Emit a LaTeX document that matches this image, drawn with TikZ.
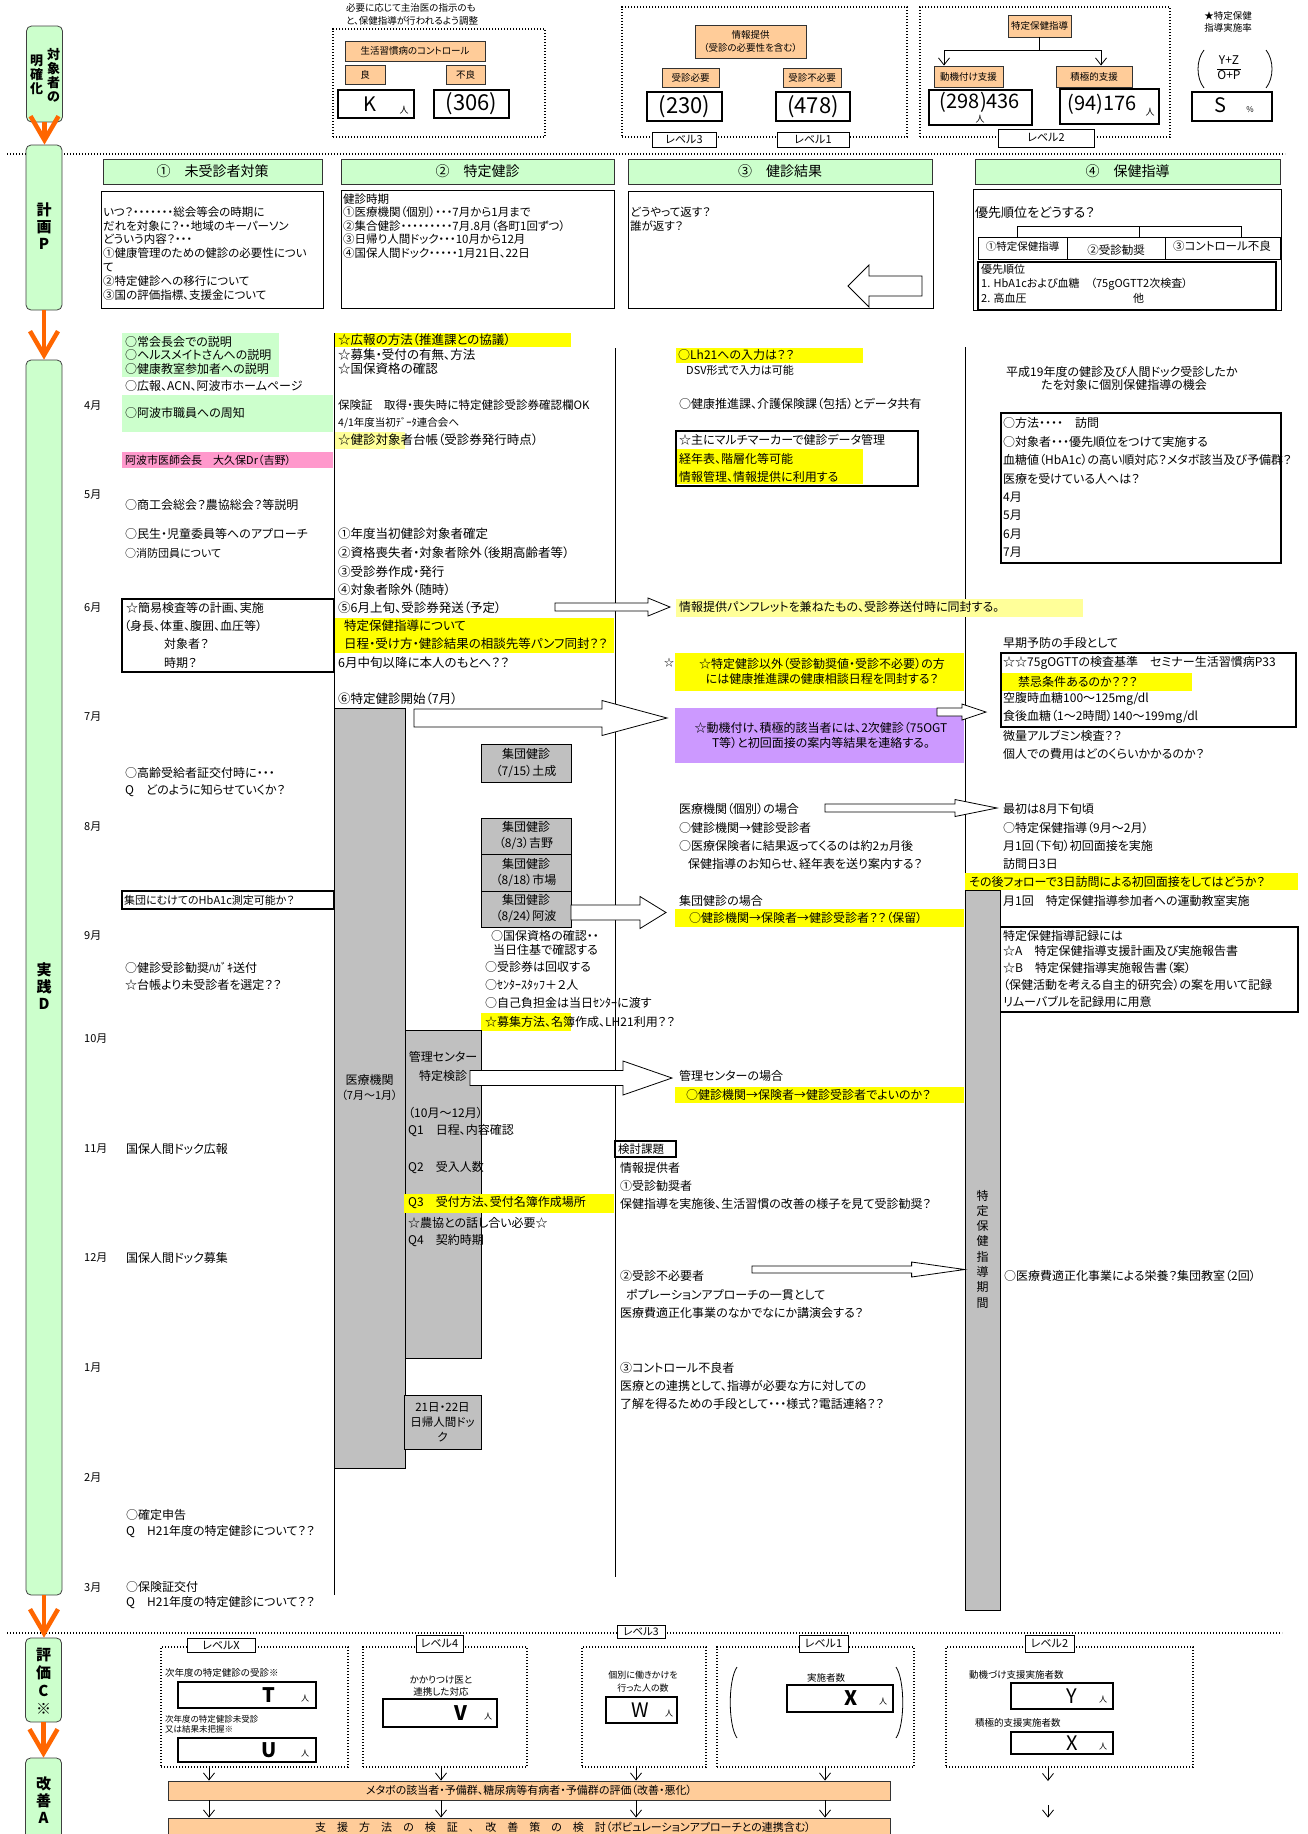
\documentclass[tikz,border=0pt]{standalone}
\usepackage{fontspec}
\setmainfont{Noto Sans CJK JP}[RawFeature=+palt]
\usetikzlibrary{arrows.meta,calc}

\definecolor{phgreen}{HTML}{CCFFCC}
\definecolor{boxorange}{HTML}{FFCC99}
\definecolor{hlyellow}{HTML}{FFFF00}
\definecolor{paleyellow}{HTML}{FFFF99}
\definecolor{pinkbox}{HTML}{FF99CC}
\definecolor{purplebox}{HTML}{CC99FF}
\definecolor{graybox}{HTML}{C0C0C0}
\definecolor{arrorange}{HTML}{FF6600}

\newcommand{\fsz}[1]{\fontsize{#1}{#1}\selectfont}
% hollow block arrow: start, tip, shaft half height, head half height, head length
\newcommand{\blockarr}[5]{%
  \draw[barr] let \p1=(#1), \p2=(#2) in
    (\x1,{\y1+#3pt}) -- ({\x2-(#5pt)},{\y1+#3pt}) -- ({\x2-(#5pt)},{\y1+#4pt})
    -- (\x2,\y1) -- ({\x2-(#5pt)},{\y1-#4pt}) -- ({\x2-(#5pt)},{\y1-#3pt})
    -- (\x1,{\y1-#3pt}) -- cycle;}

\tikzset{
  txt/.style={anchor=west, inner sep=0pt, font=\fsz{12}},
  c2/.style={anchor=west, inner sep=0pt, font=\fsz{12.5}},
  ctxt/.style={inner sep=0pt, align=center, font=\fsz{12}},
  wh/.style 2 args={minimum width=#1pt, minimum height=#2pt},
  phase/.style={draw=black!75, fill=phgreen, rounded corners=5pt, minimum width=36pt, inner sep=0pt, line width=0.8pt},
  vlab/.style={inner sep=0pt, align=center, font=\fontsize{15}{17}\selectfont\bfseries},
  hdr/.style={draw=black!80, fill=phgreen, inner sep=0pt, line width=0.9pt, font=\fsz{14}},
  obox/.style={draw=black!80, fill=boxorange, inner sep=0pt, line width=0.9pt, font=\fsz{9.5}},
  wbox/.style={draw, fill=white, inner sep=0pt, line width=0.8pt},
  tbox/.style={draw, fill=white, inner sep=0pt, line width=2pt},
  nbox/.style={draw, fill=white, inner sep=0pt, line width=1.5pt},
  gbox/.style={draw, fill=graybox, inner sep=0pt, line width=0.8pt},
  fillbox/.style={fill=#1, inner sep=0pt},
  dotbox/.style={draw, dash pattern=on 1.4pt off 1.6pt, line width=1.2pt, inner sep=0pt},
  lvl/.style={draw, fill=white, inner sep=0pt, line width=0.6pt, font=\fsz{11}},
  rule/.style={line width=0.8pt},
  dotline/.style={dash pattern=on 1.4pt off 1.6pt, line width=1.2pt},
  oarr/.style={draw=arrorange, line width=4.5pt, -{Straight Barb[length=24pt, width=28pt]}},
  sarr/.style={line width=0.8pt, -{Straight Barb[length=7pt, width=11pt]}},
  barr/.style={draw, fill=white, line width=0.8pt, line join=miter},
}

\begin{document}
\begin{tikzpicture}[x=1pt,y=-1pt]
  \useasboundingbox[fill=white] (0,0) rectangle (1308,1834);

  % Rules and separators
  \draw[dotline] (7,154) -- (1285,154);
  \draw[dotline] (7,1633) -- (1282,1633);
  \draw[rule] (334,333) -- (334,1595);
  \draw[rule] (615,348) -- (615,1577);
  \draw[rule] (965,347) -- (965,890);

  % Phase boxes
  \node[phase, minimum height=96pt] (ph1) at (44.5,74) {};
  \node[vlab, font=\fontsize{13}{14}\selectfont\bfseries] (ph1r) at (53.5,75) {対\\象\\者\\の};
  \node[vlab, font=\fontsize{13}{14}\selectfont\bfseries] (ph1l) at (36.5,75) {明\\確\\化};
  \node[phase, minimum height=165pt] (ph2) at (44,227.5) {};
  \node[vlab] (ph2t) at (44,226.5) {計\\画\\P};
  \node[phase, minimum height=1235pt] (ph3) at (44,977.5) {};
  \node[vlab] (ph3t) at (44,986) {実\\践\\D};
  \node[phase, minimum height=84pt] (ph4) at (43.5,1680) {};
  \node[vlab, font=\fontsize{15}{18}\selectfont\bfseries] (ph4t) at (43.5,1681) {評\\価\\C\\※};
  \node[phase, minimum height=110pt] (ph5) at (43.5,1813) {};
  \node[vlab] (ph5t) at (43.5,1800) {改\\善\\A};
  \draw[oarr] (ph1.south) -- (ph1.south |- ph2.north);
  \draw[oarr] (ph2.south) -- (ph2.south |- ph3.north);
  \draw[oarr] (ph3.south) -- (ph3.south |- ph4.north);
  \draw[oarr] (ph4.south) -- (ph4.south |- ph5.north);

  % Top: control / information / guidance
  \node[txt, font=\fsz{9.5}] (adj1) at (346,8) {必要に応じて主治医の指示のも};
  \node[txt, font=\fsz{9.5}] (adj2) at (346,21) {と、保健指導が行われるよう調整};
  \node[dotbox, wh={212}{108}] (grpA) at (439,83) {};
  \node[obox, wh={140}{20}] (ctl) at (415,51) {生活習慣病のコントロール};
  \node[obox, wh={40}{19}] (good) at (365,74.5) {良};
  \node[obox, wh={39}{19}] (poor) at (465.5,74.5) {不良};
  \node[tbox, wh={76}{28}] (kbox) at (376,104) {};
  \node[ctxt, font=\fsz{20}] (kval) at (370,104) {K};
  \node[ctxt, font=\fsz{9}] (kunit) at (404,110) {人};
  \node[tbox, wh={75}{28}, font=\fsz{22}] (pbox) at (471.5,104) {(306)};

  \node[dotbox, wh={285}{130}] (grpB) at (764.5,72) {};
  \node[obox, wh={111}{33}, align=center, font=\fontsize{9.5}{13}\selectfont] (info) at (750.5,41.5) {情報提供\\（受診の必要性を含む）};
  \node[obox, wh={57}{19}] (need) at (690.5,77.5) {受診必要};
  \node[obox, wh={58}{19}] (noneed) at (812,77.5) {受診不必要};
  \node[tbox, wh={75}{29}, font=\fsz{22}] (n230) at (684.5,106.5) {(230)};
  \node[tbox, wh={74}{29}, font=\fsz{22}] (n478) at (813,106.5) {(478)};
  \node[lvl, wh={64}{15}] (lvA) at (684,139.5) {レベル3};
  \node[lvl, wh={72}{15}] (lvB) at (813,139.5) {レベル1};

  \node[dotbox, wh={250}{130}] (grpC) at (1045,72) {};
  \node[obox, wh={63}{22}] (tok) at (1039.5,26) {特定保健指導};
  \node[obox, wh={69}{21}] (mot) at (968.5,76.5) {動機付け支援};
  \node[obox, wh={76}{21}] (act) at (1094,76.5) {積極的支援};
  \coordinate (brl) at (944,50);
  \coordinate (brr) at (1101,50);
  \draw[rule] (tok.south) -- (tok.south |- brl);
  \draw[rule] (brl) -- (brr);
  \draw[sarr] (brl) -- (brl |- mot.north);
  \draw[sarr] (brr) -- (brr |- act.north);
  \node[tbox, wh={103}{35}] (n436) at (980.5,107.5) {};
  \node[ctxt, font=\fsz{20}] (v436) at (980,102) {(298)436};
  \node[ctxt, font=\fsz{9}] (u436) at (980,119) {人};
  \node[tbox, wh={99}{35}] (n176) at (1109.5,106.5) {};
  \node[ctxt, font=\fsz{20}] (v176) at (1102,104) {(94)176};
  \node[ctxt, font=\fsz{9}] (u176) at (1150,112) {人};
  \node[lvl, wh={96}{18}] (lvC) at (1046,138) {レベル2};

  \node[ctxt, font=\fontsize{9.5}{12}\selectfont] (rate) at (1228,22) {★特定保健\\指導実施率};
  \node[inner sep=0pt, font=\fontsize{12}{14}\selectfont] (frac) at (1229,69) {\begin{tabular}{@{}c@{}}Y+Z\\\hline O+P\end{tabular}};
  \draw[rule] (1204,50) .. controls (1196,60) and (1196,78) .. (1204,88);
  \draw[rule] (1266,50) .. controls (1274,60) and (1274,78) .. (1266,88);
  \node[tbox, wh={80}{29}] (sbox) at (1232,106.5) {};
  \node[ctxt, font=\fsz{20}] (sval) at (1220,105) {S};
  \node[ctxt, font=\fsz{8}] (sunit) at (1250,110) {\%};

  % Plan
  \node[hdr, wh={219}{25}] (h1) at (212.5,171.5) {①　未受診者対策};
  \node[hdr, wh={273}{25}] (h2) at (477.5,171.5) {②　特定健診};
  \node[hdr, wh={304}{25}] (h3) at (780,171.5) {③　健診結果};
  \node[hdr, wh={305}{25}] (h4) at (1127.5,171.5) {④　保健指導};

  \node[wbox, wh={222}{117}] (pb1) at (212,249.5) {};
  \foreach \lbl [count=\i] in {{いつ？・・・・・・・総会等会の時期に},{だれを対象に？・・地域のキーパーソン},{どういう内容？・・・},{①健康管理のための健診の必要性につい},{て},{②特定健診への移行について},{③国の評価指標、支援金について}}
    \node[txt, font=\fsz{11.5}] (pa\i) at (103,{198.2+13.8*\i}) {\lbl};
  \node[wbox, wh={273}{118}] (pb2) at (477.5,249) {};
  \foreach \lbl [count=\i] in {{健診時期},{①医療機関（個別）・・・7月から1月まで},{②集合健診・・・・・・・・・7月.8月（各町1回ずつ）},{③日帰り人間ドック・・・10月から12月},{④国保人間ドック・・・・・1月21日、22日}}
    \node[txt, font=\fsz{11.5}] (pp\i) at (343,{185.5+13.5*\i}) {\lbl};
  \node[wbox, wh={305}{117}] (pb3) at (780.5,249.5) {};
  \node[txt, font=\fsz{11.5}] (pc1) at (630,212.5) {どうやって返す？};
  \node[txt, font=\fsz{11.5}] (pc2) at (630,226.5) {誰が返す？};
  \coordinate (back0) at (922,286);
  \coordinate (back1) at (848,286);
  \blockarr{back0}{back1}{10}{21}{-21}
  \node[wbox, wh={308}{121}] (pb4) at (1127,249.5) {};
  \node[txt, font=\fsz{13}] (prio) at (975,213) {優先順位をどうする？};
  \node[wbox, wh={89}{22}] (pr1) at (1022.5,248) {};
  \node[wbox, wh={98}{22}] (pr2) at (1116,248) {};
  \node[wbox, wh={115}{22}] (pr3) at (1222.5,248) {};
  \node[ctxt, font=\fsz{10.5}] (pr1t) at (1022.5,247) {①特定保健指導};
  \node[ctxt, font=\fsz{11.5}] (pr2t) at (1116,250) {②受診勧奨};
  \node[ctxt, font=\fsz{11.5}] (pr3t) at (1222,246) {③コントロール不良};
  \coordinate (bk1) at (1017,226);
  \coordinate (bk2) at (1139,226);
  \coordinate (bk3) at (1241,226);
  \draw[rule] (bk1 |- pr1.north) -- (bk1) -- (bk3) -- (bk3 |- pr3.north);
  \draw[rule] (bk2) -- (bk2 |- pr2.north);
  \node[tbox, wh={298}{48}] (prlist) at (1127,286) {};
  \node[txt, font=\fsz{11}] (pl1) at (981,269) {優先順位};
  \node[txt, font=\fsz{11}] (pl2) at (981,284) {1. HbA1cおよび血糖　（75gOGTT2次検査）};
  \node[txt, font=\fsz{11}] (pl3) at (981,298) {2. 高血圧};
  \node[txt, font=\fsz{11}] (pl4) at (1133,298) {他};

  % Practice: months
  \foreach \m/\y in {4/406,5/495,6/608,7/717,8/827,9/936,10/1039,11/1149,12/1258,1/1368,2/1478,3/1588}
    \node[txt, font=\fsz{11}] (mon\m) at (84,\y) {\m{}月};

  % Practice: column 1
  \node[fillbox=phgreen, wh={157}{44}] (grn1) at (200.5,355) {};
  \node[txt] (k1) at (125,342) {○常会長会での説明};
  \node[txt] (k2) at (125,355) {○ヘルスメイトさんへの説明};
  \node[txt] (k3) at (125,369) {○健康教室参加者への説明};
  \node[txt] (k4) at (125,386) {○広報、ACN、阿波市ホームページ};
  \node[fillbox=phgreen, wh={211}{37}] (grn2) at (227.5,413.5) {};
  \node[txt] (k5) at (125,413) {○阿波市職員への周知};
  \node[fillbox=pinkbox, wh={211}{16}] (pnk) at (227.5,460) {};
  \node[txt, font=\fsz{11}] (k6) at (125,460) {阿波市医師会長　大久保Dr（吉野）};
  \node[txt] (k7) at (125,505) {○商工会総会？農協総会？等説明};
  \node[txt] (k8) at (125,534) {○民生・児童委員等へのアプローチ};
  \node[txt, font=\fsz{11}] (k9) at (125,553) {○消防団員について};
  \node[tbox, wh={212}{73}] (kani) at (228,635.5) {};
  \node[txt] (k10) at (126,608) {☆簡易検査等の計画、実施};
  \node[txt] (k11) at (124,626) {（身長、体重、腹囲、血圧等）};
  \node[txt] (k12) at (164,644) {対象者？};
  \node[txt] (k13) at (164,663) {時期？};
  \node[txt] (k14) at (125,773) {○高齢受給者証交付時に・・・};
  \node[txt] (k15) at (125,791) {Q　どのように知らせていくか？};
  \node[tbox, wh={212}{18}] (hba) at (228,900) {};
  \node[txt, font=\fsz{11}] (k16) at (124,900) {集団にむけてのHbA1c測定可能か？};
  \node[txt] (k17) at (125,968) {○健診受診勧奨ﾊｶﾞｷ送付};
  \node[txt] (k18) at (125,985) {☆台帳より未受診者を選定？？};
  \node[txt] (k19) at (126,1149) {国保人間ドック広報};
  \node[txt] (k20) at (126,1258) {国保人間ドック募集};
  \node[txt] (k21) at (126,1515) {○確定申告};
  \node[txt] (k22) at (126,1532) {Q　H21年度の特定健診について？？};
  \node[txt] (k23) at (126,1587) {○保険証交付};
  \node[txt] (k24) at (126,1603) {Q　H21年度の特定健診について？？};

  % Practice: column 2
  \node[fillbox=hlyellow, wh={236}{14}] (ylw1) at (453,340) {};
  \node[c2] (s1) at (338,340) {☆広報の方法（推進課との協議）};
  \node[c2] (s2) at (338,355) {☆募集・受付の有無、方法};
  \node[c2] (s3) at (338,369) {☆国保資格の確認};
  \node[txt, font=\fsz{11.5}] (s4) at (338,405) {保険証　取得・喪失時に特定健診受診券確認欄OK};
  \node[txt, font=\fsz{10.5}] (s5) at (338,423) {4/1年度当初ﾃﾞｰﾀ連合会へ};
  \node[fillbox=paleyellow, wh={70}{17}] (ylw2) at (370,440.5) {};
  \node[c2] (s6) at (338,440) {☆健診対象者台帳（受診券発行時点）};
  \node[c2] (s7) at (338,534) {①年度当初健診対象者確定};
  \node[c2] (s8) at (338,553) {②資格喪失者・対象者除外（後期高齢者等）};
  \node[c2] (s9) at (338,572) {③受診券作成・発行};
  \node[c2] (s10) at (338,590) {④対象者除外（随時）};
  \node[c2] (s11) at (338,608) {⑤6月上旬、受診券発送（予定）};
  \node[fillbox=hlyellow, wh={279}{35}] (ylw3) at (474.5,635.5) {};
  \node[c2] (s12) at (344,626) {特定保健指導について};
  \node[c2] (s13) at (344,644) {日程・受け方・健診結果の相談先等パンフ同封？？};
  \node[c2] (s14) at (338,663) {6月中旬以降に本人のもとへ？？};
  \node[c2] (s15) at (338,699) {⑥特定健診開始（7月）};

  \node[gbox, wh={71}{760}] (iryo) at (369.5,1088) {};
  \node[ctxt] (iryo1) at (369.5,1080) {医療機関};
  \node[ctxt, font=\fsz{11}] (iryo2) at (369.5,1095) {（7月〜1月）};
  \node[gbox, wh={90}{38}, align=center, font=\fontsize{12}{17}\selectfont] (gd1) at (526,763) {集団健診\\（7/15）土成};
  \node[gbox, wh={90}{36}, align=center, font=\fontsize{12}{16}\selectfont] (gd2) at (526,836) {集団健診\\（8/3）吉野};
  \node[gbox, wh={90}{37}, align=center, font=\fontsize{12}{16}\selectfont] (gd3) at (526,872.5) {集団健診\\（8/18）市場};
  \node[gbox, wh={90}{36}, align=center, font=\fontsize{12}{16}\selectfont] (gd4) at (526,909) {集団健診\\（8/24）阿波};
  \node[txt] (s16) at (491,936) {○国保資格の確認・・};
  \node[txt] (s17) at (493,950) {当日住基で確認する};
  \node[txt] (s18) at (485,967) {○受診券は回収する};
  \node[txt] (s19) at (485,985) {○ｾﾝﾀｰｽﾀｯﾌ＋２人};
  \node[txt] (s20) at (485,1003) {○自己負担金は当日ｾﾝﾀｰに渡す};
  \node[fillbox=hlyellow, wh={90}{18}] (ylw4) at (526,1022) {};
  \node[txt] (s21) at (485,1022) {☆募集方法、名簿作成、LH21利用？？};
  \node[gbox, wh={76}{328}] (kanri) at (443,1194) {};
  \node[ctxt] (kanri1) at (443,1057) {管理センター};
  \node[ctxt] (kanri2) at (443,1076) {特定検診};
  \node[txt] (s22) at (408,1113) {（10月〜12月）};
  \node[txt] (s23) at (408,1131) {Q1　日程、内容確認};
  \node[txt] (s24) at (408,1168) {Q2　受入人数};
  \node[fillbox=hlyellow, wh={210}{19}] (ylw5) at (509,1203.5) {};
  \node[txt] (s25) at (408,1203) {Q3　受付方法、受付名簿作成場所};
  \node[txt] (s26) at (408,1223) {☆農協との話し合い必要☆};
  \node[txt] (s27) at (408,1241) {Q4　契約時期};
  \node[gbox, wh={77}{54}, align=center, font=\fontsize{11.5}{15}\selectfont] (dock) at (442.5,1422) {21日・22日\\日帰人間ドッ\\ク};

  % Practice: column 3
  \node[fillbox=hlyellow, wh={187}{15}] (ylw6) at (769.5,355.5) {};
  \node[txt] (r1) at (678,355) {○Lh21への入力は？？};
  \node[txt, font=\fsz{11}] (r2) at (686,370) {DSV形式で入力は可能};
  \node[txt] (r3) at (679,404) {○健康推進課、介護保険課（包括）とデータ共有};
  \node[tbox, wh={242}{55}] (mm) at (797,458.5) {};
  \node[fillbox=hlyellow, wh={186}{35}] (ylw7) at (770,466.5) {};
  \node[txt] (r4) at (679,440) {☆主にマルチマーカーで健診データ管理};
  \node[txt] (r5) at (679,459) {経年表、階層化等可能};
  \node[txt] (r6) at (679,477) {情報管理、情報提供に利用する};
  \node[fillbox=paleyellow, wh={407}{18}] (pamph) at (879.5,608) {};
  \node[txt] (r7) at (679,607) {情報提供パンフレットを兼ねたもの、受診券送付時に同封する。};
  \node[txt, font=\fsz{10}] (r8) at (664,663) {☆};
  \node[fillbox=hlyellow, wh={289}{38}] (ylw8) at (819.5,672) {};
  \node[ctxt] (r9) at (822,664) {☆特定健診以外（受診勧奨値・受診不必要）の方};
  \node[ctxt] (r10) at (822,679) {には健康推進課の健康相談日程を同封する？};
  \node[fillbox=purplebox, wh={289}{55}] (purp) at (819.5,735.5) {};
  \node[ctxt] (r11) at (821,728) {☆動機付け、積極的該当者には、2次健診（75OGT};
  \node[ctxt] (r12) at (821,743) {T等）と初回面接の案内等結果を連絡する。};
  \node[txt] (r13) at (679,809) {医療機関（個別）の場合};
  \node[txt] (r14) at (679,828) {○健診機関→健診受診者};
  \node[txt] (r15) at (679,846) {○医療保険者に結果返ってくるのは約2ヵ月後};
  \node[txt] (r16) at (688,864) {保健指導のお知らせ、経年表を送り案内する？};
  \node[txt] (r17) at (679,901) {集団健診の場合};
  \node[fillbox=hlyellow, wh={289}{18}] (ylw9) at (819.5,918) {};
  \node[txt] (r18) at (689,918) {○健診機関→保険者→健診受診者？？（保留）};
  \node[txt] (r19) at (679,1076) {管理センターの場合};
  \node[fillbox=hlyellow, wh={289}{16}] (ylw10) at (819.5,1094.5) {};
  \node[txt] (r20) at (686,1095) {○健診機関→保険者→健診受診者でよいのか？};
  \node[tbox, wh={61}{16}] (kento) at (645.5,1149) {};
  \node[txt, font=\fsz{11.5}] (r21) at (618,1149) {検討課題};
  \node[txt] (r22) at (620,1168) {情報提供者};
  \node[txt] (r23) at (620,1186) {①受診勧奨者};
  \node[txt] (r24) at (620,1204) {保健指導を実施後、生活習慣の改善の様子を見て受診勧奨？};
  \node[txt] (r25) at (620,1276) {②受診不必要者};
  \node[txt] (r26) at (626,1295) {ポプレーションアプローチの一貫として};
  \node[txt] (r27) at (620,1313) {医療費適正化事業のなかでなにか講演会する？};
  \node[txt] (r28) at (620,1368) {③コントロール不良者};
  \node[txt] (r29) at (620,1386) {医療との連携として、指導が必要な方に対しての};
  \node[txt] (r30) at (620,1404) {了解を得るための手段として・・・様式？電話連絡？？};

  % Practice: column 4
  \node[txt] (q1) at (1006,372) {平成19年度の健診及び人間ドック受診したか};
  \node[txt] (q2) at (1041,385) {たを対象に個別保健指導の機会};
  \node[tbox, wh={280}{150}] (visit) at (1141,488) {};
  \foreach \lbl [count=\i] in {{○方法・・・・　訪問},{○対象者・・・優先順位をつけて実施する},{血糖値（HbA1c）の高い順対応？メタボ該当及び予備群？},{医療を受けている人へは？},{4月},{5月},{6月},{7月}}
    \node[txt] (vl\i) at (1003,{404.5+18.5*\i}) {\lbl};
  \node[txt] (q3) at (1003,643) {早期予防の手段として};
  \node[tbox, wh={295}{74}] (ogtt) at (1148.5,690) {};
  \node[fillbox=hlyellow, wh={190}{18}] (ylw11) at (1097,682) {};
  \node[txt] (q4) at (1003,663) {☆☆75gOGTTの検査基準　セミナー生活習慣病P33};
  \node[txt] (q5) at (1018,682) {禁忌条件あるのか？？？};
  \node[txt] (q6) at (1003,699) {空腹時血糖100〜125mg/dl};
  \node[txt] (q7) at (1003,717) {食後血糖（1〜2時間）140〜199mg/dl};
  \node[txt] (q8) at (1003,736) {微量アルブミン検査？？};
  \node[txt] (q9) at (1003,754) {個人での費用はどのくらいかかるのか？};
  \node[txt] (q10) at (1003,809) {最初は8月下旬頃};
  \node[txt] (q11) at (1003,828) {○特定保健指導（9月〜2月）};
  \node[txt] (q12) at (1003,846) {月1回（下旬）初回面接を実施};
  \node[txt] (q13) at (1003,864) {訪問日3日};
  \node[fillbox=hlyellow, wh={333}{17}] (ylw12) at (1131.5,881.5) {};
  \node[txt] (q14) at (969,882) {その後フォローで3日訪問による初回面接をしてはどうか？};
  \node[txt] (q15) at (1003,901) {月1回　特定保健指導参加者への運動教室実施};
  \node[tbox, wh={298}{85}] (rec) at (1149,969.5) {};
  \node[txt] (q16) at (1003,936) {特定保健指導記録には};
  \node[txt] (q17) at (1003,951) {☆A　特定保健指導支援計画及び実施報告書};
  \node[txt] (q18) at (1003,968) {☆B　特定保健指導実施報告書（案）};
  \node[txt] (q19) at (1003,985) {（保健活動を考える自主的研究会）の案を用いて記録};
  \node[txt] (q20) at (1003,1002) {リムーバブルを記録用に用意};
  \node[gbox, wh={35}{720}] (kikan) at (982.5,1250) {};
  \node[ctxt, font=\fontsize{12}{15.3}\selectfont] (kikant) at (982.5,1249) {特\\定\\保\\健\\指\\導\\期\\間};
  \node[txt] (q21) at (1004,1276) {○医療費適正化事業による栄養？集団教室（2回）};

  % Practice: block arrows
  \coordinate (ar5s) at (555,607);
  \coordinate (ar5t) at (670,607);
  \blockarr{ar5s}{ar5t}{4}{9}{22}
  \coordinate (ar6s) at (414,718);
  \coordinate (ar6t) at (667,718);
  \blockarr{ar6s}{ar6t}{9}{17.5}{65}
  \coordinate (arGs) at (571,912.5);
  \coordinate (arGt) at (666,912.5);
  \blockarr{arGs}{arGt}{7.5}{16}{26}
  \coordinate (arKs) at (470,1078);
  \coordinate (arKt) at (672,1078);
  \blockarr{arKs}{arKt}{7.5}{17}{49}
  \coordinate (arPs) at (937,712);
  \coordinate (arPt) at (986,712);
  \blockarr{arPs}{arPt}{4}{8}{24}
  \coordinate (arIs) at (825,808);
  \coordinate (arIt) at (997,808);
  \blockarr{arIs}{arIt}{4}{8.5}{42}
  \coordinate (arNs) at (752,1269.5);
  \blockarr{arNs}{kikan.west |- arNs}{3.5}{7.5}{53}

  % Check / Act
  \node[lvl, wh={48}{13}, font=\fsz{10.5}] (lv3b) at (641,1631.5) {レベル3};
  \node[dotbox, wh={187}{120}] (e1) at (254.5,1707) {};
  \node[dotbox, wh={164}{120}] (e2) at (445,1707) {};
  \node[dotbox, wh={124}{120}] (e3) at (644,1707) {};
  \node[dotbox, wh={197}{120}] (e4) at (815.5,1707) {};
  \node[dotbox, wh={247}{120}] (e5) at (1069.5,1707) {};
  \node[lvl, wh={68}{14}] (lvX) at (221,1645) {レベルX};
  \node[lvl, wh={47}{17}] (lv4) at (439.5,1643.5) {レベル4};
  \node[lvl, wh={49}{17}] (lv1b) at (823.5,1643.5) {レベル1};
  \node[lvl, wh={49}{17}] (lv2b) at (1049.5,1643.5) {レベル2};

  \node[txt, font=\fsz{9.5}] (e1a) at (165,1673) {次年度の特定健診の受診※};
  \node[nbox, wh={138}{26}] (tbx) at (247,1695) {};
  \node[ctxt, font=\fsz{20}\bfseries] (tv) at (269,1695) {T};
  \node[ctxt, font=\fsz{8}] (tu) at (305,1699) {人};
  \node[txt, font=\fsz{8.5}] (e1b) at (165,1719) {次年度の特定健診未受診};
  \node[txt, font=\fsz{8.5}] (e1c) at (165,1729) {又は結果未把握※};
  \node[nbox, wh={138}{24}] (ubx) at (247,1750) {};
  \node[ctxt, font=\fsz{20}\bfseries] (uv) at (269,1750) {U};
  \node[ctxt, font=\fsz{8}] (uu) at (305,1754) {人};

  \node[ctxt, font=\fontsize{9.5}{12}\selectfont] (e2a) at (441,1686) {かかりつけ医と\\連携した対応};
  \node[nbox, wh={114}{28}] (vbx) at (440,1713) {};
  \node[ctxt, font=\fsz{20}\bfseries] (vv) at (461,1713) {V};
  \node[ctxt, font=\fsz{8}] (vu) at (488,1717) {人};

  \node[ctxt, font=\fontsize{9}{13}\selectfont] (e3a) at (643,1681.5) {個別に働きかけを\\行った人の数};
  \node[nbox, wh={71}{26}] (wbx) at (641.5,1710) {};
  \node[ctxt, font=\fsz{20}] (wv) at (640,1710) {W};
  \node[ctxt, font=\fsz{8}] (wu) at (669,1714) {人};

  \draw[rule] (737,1667) .. controls (728,1680) and (728,1725) .. (737,1738);
  \draw[rule] (896,1667) .. controls (905,1680) and (905,1725) .. (896,1738);
  \node[ctxt, font=\fsz{9.5}] (e4a) at (826,1678) {実施者数};
  \node[nbox, wh={106}{27}] (xbx) at (840,1698.5) {};
  \node[ctxt, font=\fsz{20}\bfseries] (xv) at (851,1698) {X};
  \node[ctxt, font=\fsz{8}] (xu) at (883,1702) {人};

  \node[txt, font=\fsz{9.5}] (e5a) at (969,1675) {動機づけ支援実施者数};
  \node[nbox, wh={102}{26}] (ybx) at (1062,1696) {};
  \node[ctxt, font=\fsz{20}] (yv) at (1072,1696) {Y};
  \node[ctxt, font=\fsz{8}] (yu) at (1103,1700) {人};
  \node[txt, font=\fsz{9.5}] (e5b) at (975,1723) {積極的支援実施者数};
  \node[nbox, wh={102}{22}] (x2bx) at (1062,1743) {};
  \node[ctxt, font=\fsz{20}] (x2v) at (1072,1743) {X};
  \node[ctxt, font=\fsz{8}] (x2u) at (1103,1747) {人};

  \node[obox, wh={722}{19}, font=\fsz{11}] (bar1) at (529,1790.5) {メタボの該当者・予備群、糖尿病等有病者・予備群の評価（改善・悪化）};
  \node[obox, wh={722}{32}] (bar2) at (529,1834) {};
  \node[ctxt, font=\fsz{11}] (bar2t) at (563,1827) {支　援　方　法　の　検　証　、　改　善　策　の　検　討（ポピュレーションアプローチとの連携含む）};
  \foreach \x in {209,441,636,825} {
    \draw[sarr] (\x,0 |- e1.south) -- (\x,0 |- bar1.north);
    \draw[sarr] (\x,0 |- bar1.south) -- (\x,0 |- bar2.north);
  }
  \coordinate (lv2a) at (1048,1781);
  \coordinate (lv2c) at (1048,1805);
  \draw[sarr] (lv2a |- e5.south) -- (lv2a);
  \draw[sarr] (lv2c) -- (lv2c |- bar2.north);
\end{tikzpicture}
\end{document}
